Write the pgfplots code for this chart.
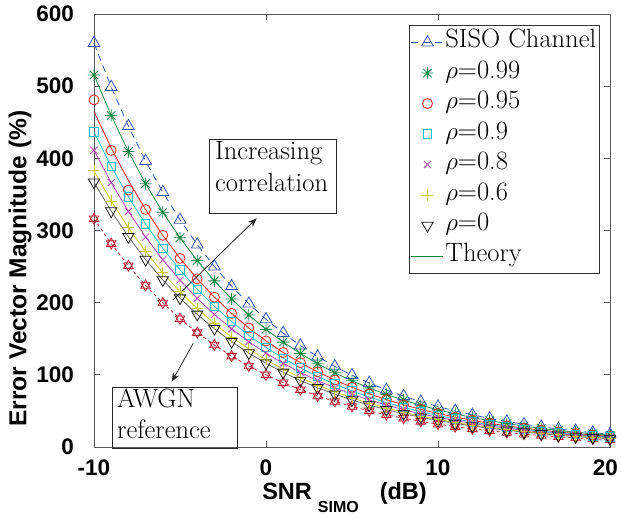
\documentclass[border=0pt]{standalone}
\usepackage{fontspec}
\usepackage{pgfplots}
\pgfplotsset{compat=1.18}
\usepackage{pgfplotstable}
\usetikzlibrary{arrows.meta}
\newfontfamily\lsans{Liberation Sans}

\definecolor{cSISO}{RGB}{55,85,175}
\definecolor{c99}{RGB}{30,135,70}
\definecolor{c95}{RGB}{240,30,30}
\definecolor{c90}{RGB}{20,190,200}
\definecolor{c80}{RGB}{175,70,180}
\definecolor{c60}{RGB}{200,200,40}
\definecolor{c0}{RGB}{25,25,25}
\definecolor{c0line}{RGB}{105,105,105}
\definecolor{cAWGN}{RGB}{180,30,50}
\definecolor{cTheory}{RGB}{0,125,45}

\pgfdeclareplotmark{hexagram}{%
  \pgfpathmoveto{\pgfqpointpolar{90}{\pgfplotmarksize}}%
  \pgfpathlineto{\pgfqpointpolar{210}{\pgfplotmarksize}}%
  \pgfpathlineto{\pgfqpointpolar{330}{\pgfplotmarksize}}%
  \pgfpathclose
  \pgfpathmoveto{\pgfqpointpolar{270}{\pgfplotmarksize}}%
  \pgfpathlineto{\pgfqpointpolar{30}{\pgfplotmarksize}}%
  \pgfpathlineto{\pgfqpointpolar{150}{\pgfplotmarksize}}%
  \pgfpathclose
  \pgfusepathqstroke}
\pgfdeclareplotmark{mstar}{%
  \pgfpathmoveto{\pgfqpoint{-\pgfplotmarksize}{0pt}}\pgfpathlineto{\pgfqpoint{\pgfplotmarksize}{0pt}}%
  \pgfpathmoveto{\pgfqpoint{0pt}{-\pgfplotmarksize}}\pgfpathlineto{\pgfqpoint{0pt}{\pgfplotmarksize}}%
  \pgfpathmoveto{\pgfqpoint{-.707\pgfplotmarksize}{-.707\pgfplotmarksize}}\pgfpathlineto{\pgfqpoint{.707\pgfplotmarksize}{.707\pgfplotmarksize}}%
  \pgfpathmoveto{\pgfqpoint{-.707\pgfplotmarksize}{.707\pgfplotmarksize}}\pgfpathlineto{\pgfqpoint{.707\pgfplotmarksize}{-.707\pgfplotmarksize}}%
  \pgfusepathqstroke}

\pgfplotstableread{
x siso r99 r95 r95s r90 r80 r60 r0 awgn
-10 559.7 515.5 465.0 481.0 436.4 411.1 382.6 366.8 316.2
-9 498.9 459.4 414.3 411.0 388.9 366.4 341.0 326.9 281.8
-8 444.6 409.4 369.2 356.0 346.6 326.5 303.9 291.4 251.2
-7 396.2 364.9 329.1 329.1 308.9 291.0 270.9 259.7 223.9
-6 353.2 325.2 293.3 293.3 275.3 259.4 241.4 231.5 199.5
-5 314.8 289.9 261.4 261.4 245.4 231.2 215.2 206.3 177.8
-4 280.5 258.3 233.0 233.0 218.7 206.0 191.8 183.8 158.5
-3 250.0 230.2 207.6 207.6 194.9 183.6 170.9 163.9 141.3
-2 222.8 205.2 185.1 185.1 173.7 163.7 152.3 146.0 125.9
-1 198.6 182.9 164.9 164.9 154.8 145.9 135.8 130.2 112.2
0 177.0 163.0 147.0 147.0 138.0 130.0 121.0 116.0 100.0
1 157.8 145.3 131.0 131.0 123.0 115.9 107.8 103.4 89.1
2 140.6 129.5 116.8 116.8 109.6 103.3 96.1 92.1 79.4
3 125.3 115.4 104.1 104.1 97.7 92.0 85.7 82.1 70.8
4 111.7 102.9 92.8 92.8 87.1 82.0 76.4 73.2 63.1
5 99.5 91.7 82.7 82.7 77.6 73.1 68.0 65.2 56.2
6 88.7 81.7 73.7 73.7 69.2 65.2 60.6 58.1 50.1
7 79.1 72.8 65.7 65.7 61.6 58.1 54.1 51.8 44.7
8 70.5 64.9 58.5 58.5 54.9 51.8 48.2 46.2 39.8
9 62.8 57.8 52.2 52.2 49.0 46.1 42.9 41.2 35.5
10 56.0 51.5 46.5 46.5 43.6 41.1 38.3 36.7 31.6
11 49.9 45.9 41.4 41.4 38.9 36.6 34.1 32.7 28.2
12 44.5 40.9 36.9 36.9 34.7 32.7 30.4 29.1 25.1
13 39.6 36.5 32.9 32.9 30.9 29.1 27.1 26.0 22.4
14 35.3 32.5 29.3 29.3 27.5 25.9 24.1 23.1 20.0
15 31.5 29.0 26.1 26.1 24.5 23.1 21.5 20.6 17.8
16 28.1 25.8 23.3 23.3 21.9 20.6 19.2 18.4 15.8
17 25.0 23.0 20.8 20.8 19.5 18.4 17.1 16.4 14.1
18 22.3 20.5 18.5 18.5 17.4 16.4 15.2 14.6 12.6
19 19.9 18.3 16.5 16.5 15.5 14.6 13.6 13.0 11.2
20 17.7 16.3 14.7 14.7 13.8 13.0 12.1 11.6 10.0
}\data

\begin{document}
\begin{tikzpicture}
\useasboundingbox (-94pt,-71pt) rectangle (527pt,447pt);
\begin{axis}[
  at={(0pt,0pt)}, anchor=south west,
  width=516pt, height=433pt, scale only axis,
  xmin=-10, xmax=20, ymin=0, ymax=600,
  clip=false,
  xtick={-10,0,10,20}, xticklabels={-10,0,10,{\hbox{20\kern9pt}}},
  ytick={0,100,200,300,400,500,600}, yticklabels={0,100,200,300,400,500,600},
  tick align=inside, major tick length=6pt,
  tick style={color=black!65, line width=0.7pt},
  axis line style={color=black!65, line width=0.9pt},
  ticklabel style={font=\lsans\bfseries\fontsize{22.5}{22.5}\selectfont, inner sep=0pt},
  yticklabel style={anchor=east, xshift=-20pt},
  xticklabel style={anchor=north, yshift=-12.5pt},
  xlabel={SNR\hspace{6pt}\raisebox{-13pt}{\fontsize{16}{16}\selectfont SIMO}\hspace{21pt}(dB)},
  xlabel style={font=\lsans\bfseries\fontsize{23.5}{23.5}\selectfont, at={(axis description cs:0.4855,-0.1224)}, anchor=base, inner sep=0pt},
  ylabel={Error Vector Magnitude (\%)},
  ylabel style={font=\lsans\bfseries\fontsize{24.5}{24.5}\selectfont, at={(axis description cs:-0.1434,0.412)}, anchor=center, inner sep=0pt},
  legend style={at={(rel axis cs:0.9806,0.9746)}, anchor=north east,
    font=\fontsize{26.5}{26.5}\selectfont, draw=black!80, line width=0.7pt,
    fill=white, inner sep=2pt, row sep=0pt,
    nodes={text height=19pt, text depth=8.5pt, inner sep=1.5pt}},
  legend cell align=left,
  legend image code/.code={\draw[mark repeat=2,mark phase=2] plot coordinates {(0pt,0pt) (16pt,0pt) (32pt,0pt)};},
  every axis plot/.append style={line width=0.8pt},
]
% theory curves
\addplot[c99, forget plot] table[x=x,y=r99]{\data};
\addplot[c95, forget plot] table[x=x,y=r95]{\data};
\addplot[c90, forget plot] table[x=x,y=r90]{\data};
\addplot[c80, forget plot] table[x=x,y=r80]{\data};
\addplot[c60, forget plot] table[x=x,y=r60]{\data};
\addplot[c0line, forget plot] table[x=x,y=r0]{\data};
% AWGN reference
\addplot[cAWGN, dashed, mark=hexagram, mark size=5.5pt, mark options={solid}, forget plot] table[x=x,y=awgn]{\data};
% SISO
\addplot[cSISO, dash pattern=on 7pt off 5pt, mark=triangle, mark size=6.8pt, mark options={solid}] table[x=x,y=siso]{\data};
\addlegendentry{SISO Channel}
\addplot[c99, only marks, mark=mstar, mark size=6pt] table[x=x,y=r99]{\data};
\addlegendentry{$\rho$=0.99}
\addplot[c95, only marks, mark=o, mark size=5pt] table[x=x,y=r95s]{\data};
\addlegendentry{$\rho$=0.95}
\addplot[c90, only marks, mark=square, mark size=4.2pt, line width=0.9pt] table[x=x,y=r90]{\data};
\addlegendentry{$\rho$=0.9}
\addplot[c80, only marks, mark=x, mark size=5pt] table[x=x,y=r80]{\data};
\addlegendentry{$\rho$=0.8}
\addplot[c60, only marks, mark=+, mark size=5.5pt] table[x=x,y=r60]{\data};
\addlegendentry{$\rho$=0.6}
\addplot[c0, only marks, mark=triangle, mark size=6.5pt, mark options={rotate=180}] table[x=x,y=r0]{\data};
\addlegendentry{$\rho$=0}
\addlegendimage{cTheory, line width=0.9pt}
\addlegendentry{Theory}
% annotations
\draw[black!85, line width=0.8pt] (axis cs:-3.31,426.8) rectangle (axis cs:4.07,324.2);
\node[anchor=north west, inner sep=0pt, align=left, font=\fontsize{26.5}{32.5}\selectfont] at (axis cs:-2.97,424.0) {Increasing\\correlation};
\draw[black!85, line width=0.8pt, -{Stealth[length=9pt,width=7pt]}] (axis cs:-5.41,203.7) -- (axis cs:-0.54,316.9);
\draw[black!85, line width=0.8pt] (axis cs:-8.95,83.1) rectangle (axis cs:-1.69,-1.5);
\node[anchor=north west, inner sep=0pt, align=left, font=\fontsize{26.5}{31}\selectfont] at (axis cs:-8.66,80.5) {AWGN\\reference};
\draw[black!85, line width=0.8pt, -{Stealth[length=9pt,width=7pt]}] (axis cs:-4.23,143.7) -- (axis cs:-5.48,90.5);
\end{axis}
\end{tikzpicture}
\end{document}
